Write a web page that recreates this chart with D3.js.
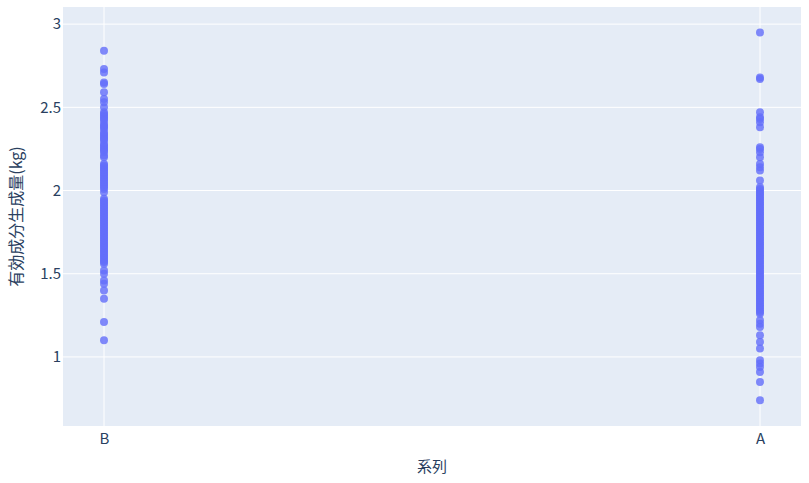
<!DOCTYPE html>
<html>
<head>
<meta charset="utf-8">
<script src="https://cdn.jsdelivr.net/npm/d3@7"></script>
<style>
  body { margin: 0; background: #fff; }
  svg text { font-family: "Noto Sans CJK JP", "Noto Sans", sans-serif; fill: #2a3f5f; }
</style>
</head>
<body>
<svg id="chart"></svg>
<script>
// categories, in axis order
var categories = ["B", "A"];

// 有効成分生成量(kg) for series B
var valuesB = [2.84, 2.73, 2.71, 2.65, 2.64, 2.59, 2.55, 2.53, 2.50,
  2.47, 2.46, 2.45, 2.44, 2.43, 2.42, 2.40, 2.39, 2.38, 2.37, 2.35, 2.34, 2.33,
  2.32, 2.31, 2.30, 2.28, 2.27, 2.26, 2.25, 2.24, 2.23, 2.21, 2.20, 2.16, 2.15,
  2.14, 2.13, 2.12, 2.11, 2.10, 2.09, 2.08, 2.07, 2.06, 2.05, 2.04, 2.03, 2.02,
  2.01, 1.99, 1.95, 1.94, 1.93, 1.92, 1.91, 1.90, 1.89, 1.88, 1.87, 1.86, 1.85,
  1.84, 1.83, 1.82, 1.81, 1.80, 1.79, 1.78, 1.77, 1.76, 1.75, 1.74, 1.73, 1.72,
  1.71, 1.70, 1.69, 1.68, 1.67, 1.66, 1.65, 1.64, 1.63, 1.62, 1.61, 1.60, 1.59,
  1.58, 1.57, 1.56, 1.52, 1.50, 1.46, 1.44, 1.40, 1.35, 1.21, 1.10];

// 有効成分生成量(kg) for series A
var valuesA = [2.95, 2.68, 2.67, 2.47, 2.44, 2.43, 2.41, 2.38, 2.26, 2.25,
  2.23, 2.20, 2.16, 2.14, 2.12, 2.06,
  2.02, 2.01, 2.00, 1.99, 1.98, 1.97, 1.96, 1.95, 1.94, 1.93, 1.92, 1.91, 1.90,
  1.89, 1.88, 1.87, 1.86, 1.85, 1.84, 1.83, 1.82, 1.81, 1.80, 1.79, 1.78, 1.77,
  1.76, 1.75, 1.74, 1.73, 1.72, 1.71, 1.70, 1.69, 1.68, 1.67, 1.66, 1.65, 1.64,
  1.63, 1.62, 1.61, 1.60, 1.59, 1.58, 1.57, 1.56, 1.55, 1.54, 1.53, 1.52, 1.51,
  1.50, 1.49, 1.48, 1.47, 1.46, 1.45, 1.44, 1.43, 1.42, 1.41, 1.40, 1.39, 1.38,
  1.37, 1.36, 1.35, 1.34, 1.33, 1.32, 1.31, 1.30, 1.29, 1.28, 1.27, 1.26,
  1.22, 1.20, 1.18, 1.13, 1.09, 1.05, 0.98, 0.96, 0.94, 0.91, 0.85, 0.74];

var yTicks = [1, 1.5, 2, 2.5, 3];

document.addEventListener("DOMContentLoaded", function() {
  var points = [];
  valuesB.forEach(function(v) { points.push({ cat: "B", val: v }); });
  valuesA.forEach(function(v) { points.push({ cat: "A", val: v }); });
  drawChart(points);
});

function drawChart(data) {
  var svgWidth = 809, svgHeight = 483;
  var margin = { top: 7, right: 8, bottom: 57, left: 63 };
  var width = svgWidth - margin.left - margin.right;
  var height = svgHeight - margin.top - margin.bottom;

  var svg = d3.select("#chart")
    .attr("width", svgWidth)
    .attr("height", svgHeight);

  var chart = svg.append("g")
    .attr("transform", `translate(${margin.left}, ${margin.top})`);

  chart.append("rect")
    .attr("width", width)
    .attr("height", height)
    .attr("fill", "#e5ecf6");

  var x = d3.scalePoint()
    .domain(categories)
    .range([0, width])
    .padding(0.0625);

  var y = d3.scaleLinear()
    .domain([0.585, 3.103])
    .range([height, 0]);

  // grid lines
  chart.append("g")
    .selectAll("line")
    .data(yTicks)
    .enter()
    .append("line")
    .attr("x1", 0).attr("x2", width)
    .attr("y1", d => y(d)).attr("y2", d => y(d))
    .attr("stroke", "#fff").attr("stroke-width", 1);

  chart.append("g")
    .selectAll("line")
    .data(categories)
    .enter()
    .append("line")
    .attr("x1", d => x(d)).attr("x2", d => x(d))
    .attr("y1", 0).attr("y2", height)
    .attr("stroke", "#fff").attr("stroke-width", 1);

  // axes
  var yAxis = chart.append("g")
    .call(d3.axisLeft(y).tickValues(yTicks).tickSize(0).tickPadding(2).tickFormat(d3.format("")));
  var xAxis = chart.append("g")
    .attr("transform", "translate(0," + height + ")")
    .call(d3.axisBottom(x).tickSize(0).tickPadding(7));

  [yAxis, xAxis].forEach(function(a) {
    a.select(".domain").remove();
    a.attr("font-family", null);
    a.selectAll("text").attr("font-size", 15);
  });

  // points
  chart.append("g")
    .selectAll("circle")
    .data(data)
    .enter()
    .append("circle")
    .attr("cx", d => x(d.cat))
    .attr("cy", d => y(d.val))
    .attr("r", 4)
    .attr("fill", "#636efa")
    .attr("fill-opacity", 0.8);

  // labels
  svg.append("text")
    .attr("x", margin.left + width / 2)
    .attr("y", 472)
    .attr("text-anchor", "middle")
    .attr("font-size", 15)
    .text("系列");

  svg.append("text")
    .attr("transform", `translate(22, ${margin.top + height / 2}) rotate(-90)`)
    .attr("text-anchor", "middle")
    .attr("font-size", 16)
    .text("有効成分生成量(kg)");
}
</script>
</body>
</html>
